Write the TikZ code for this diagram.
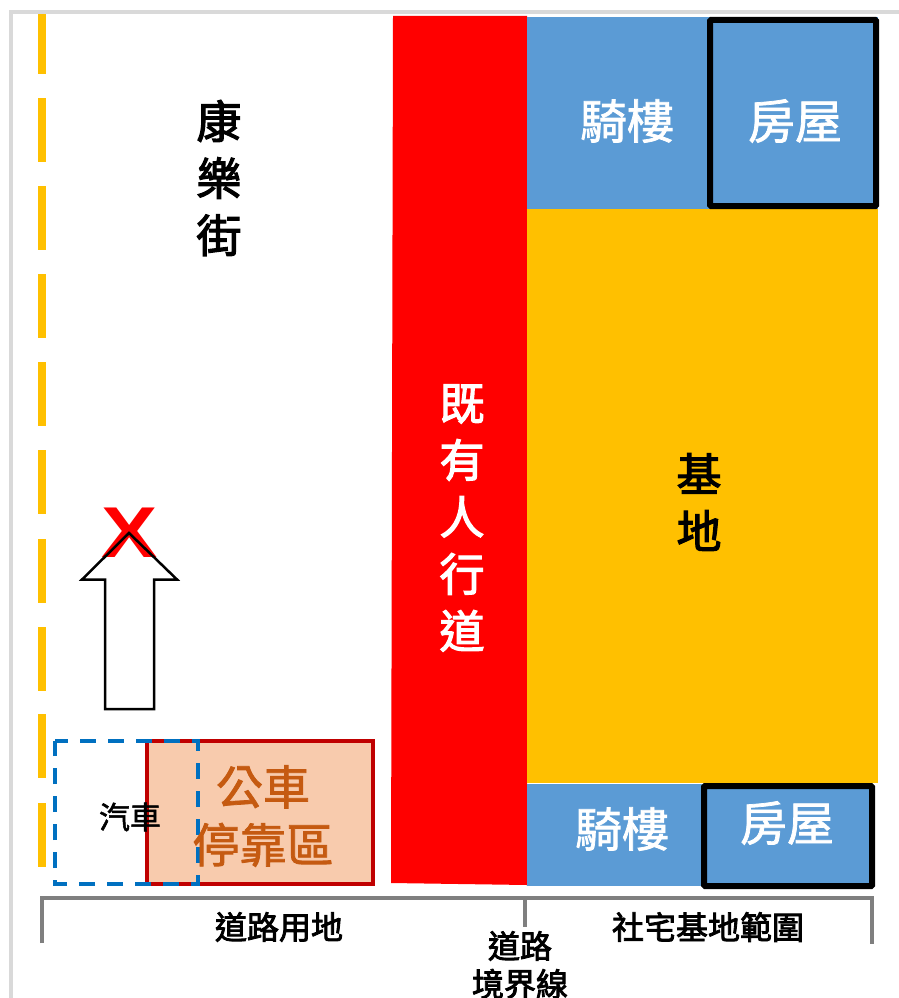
\documentclass[tikz,border=0pt]{standalone}
\usepackage{fontspec}
\setmainfont{Noto Sans CJK TC}
\newfontfamily\xfont{Liberation Sans}
\newfontfamily\midfont[FakeBold=2.6]{Noto Sans CJK TC}
\newfontfamily\lightfont[FakeBold=1.6]{Noto Sans CJK TC}
\definecolor{laneyellow}{HTML}{FFC000}
\definecolor{porchblue}{HTML}{5B9BD5}
\definecolor{busfill}{HTML}{F8CBAD}
\definecolor{bustext}{HTML}{C55A11}
\definecolor{busedge}{HTML}{C00000}
\definecolor{cardash}{HTML}{0070C0}
\definecolor{framegrey}{HTML}{D9D9D9}
\definecolor{bracketgrey}{HTML}{7F7F7F}
\newcommand{\px}[2]{\fontsize{#1}{#2}\selectfont}
\begin{document}
\begin{tikzpicture}
[x=1pt,y=-1pt,
bigtext/.style={inner sep=0pt,align=center,font=\midfont\px{45}{57}},
roomtext/.style={inner sep=0pt,align=center,text=white,font=\lightfont\px{47}{58}},
bustxt/.style={inner sep=0pt,align=center,text=bustext,font=\lightfont\px{47}{58}},
smalltext/.style={inner sep=0pt,align=center,font=\midfont\px{32}{38}},
house/.style={draw=black,line width=6pt,fill=porchblue,rounded corners=1pt},
bracket/.style={draw=bracketgrey,line width=3.5pt}]
\useasboundingbox (0,0) rectangle (899,998);
\fill[white] (0,0) rectangle (899,998);
% page frame
\draw[framegrey,line width=4pt] (11,998) -- (11,12) -- (899,12);
% centre line
\fill[laneyellow] (38,14) rectangle (46,74);
\foreach \ytop in {98,186,274,362,450,539,627,714,803}
  \fill[laneyellow] (38,\ytop) rectangle (46,\ytop+64);
% sidewalk and site
\fill[red] (393,16) -- (527,16) -- (527,885) -- (391,883) -- cycle;
\fill[laneyellow] (527,209) rectangle (878,783);
\fill[porchblue] (527,17) rectangle (878,209);
\fill[porchblue] (527,784) rectangle (872,886);
\draw[house] (710,20) rectangle (876,206);
\draw[house] (704,786) rectangle (872,886);
% bus stop
\draw[busedge,line width=4pt,fill=busfill] (147,741) rectangle (373,884);
\draw[cardash,line width=4pt,dash pattern=on 16pt off 12pt,dash phase=3pt]
  (55,741) -- (198,741) -- (198,884) -- (55,884) -- cycle;
% forbidden direction
\node[inner sep=0pt,text=red,font=\px{72}{72}\xfont\bfseries] (xmark) at (130,533) {\scalebox{1.17}[1]{X}};
\draw[black,line width=2.5pt,miter limit=10] (129,533) -- (177,579.5) -- (154,579.5) -- (154,709)
  -- (105,709) -- (105,579.5) -- (82,579.5) -- cycle;
% brackets
\draw[bracket] (42,943) -- (42,898) -- (872,898) -- (872,944);
\draw[bracket] (525,898) -- (525,927);
% labels
\node[bigtext] (street) at (219,178) {康\\樂\\街};
\node[bigtext,text=white] (sidewalk) at (462,518) {既\\有\\人\\行\\道};
\node[bigtext] (site) at (699,502) {基\\地};
\node[roomtext] (porchtop) at (627,121) {騎樓};
\node[roomtext] (housetop) at (795,121) {房屋};
\node[roomtext] (porchbot) at (622,829) {騎樓};
\node[roomtext] (housebot) at (787,823) {房屋};
\node[bustxt] (busstop) at (263,816) {公車\\停靠區};
\node[inner sep=0pt,font=\lightfont\px{31}{36}] (car) at (130,817) {汽車};
\node[smalltext] (roadland) at (279,927) {道路用地};
\node[smalltext] (boundary) at (520,965) {道路\\境界線};
\node[smalltext] (siterange) at (708,927) {社宅基地範圍};
\end{tikzpicture}
\end{document}
